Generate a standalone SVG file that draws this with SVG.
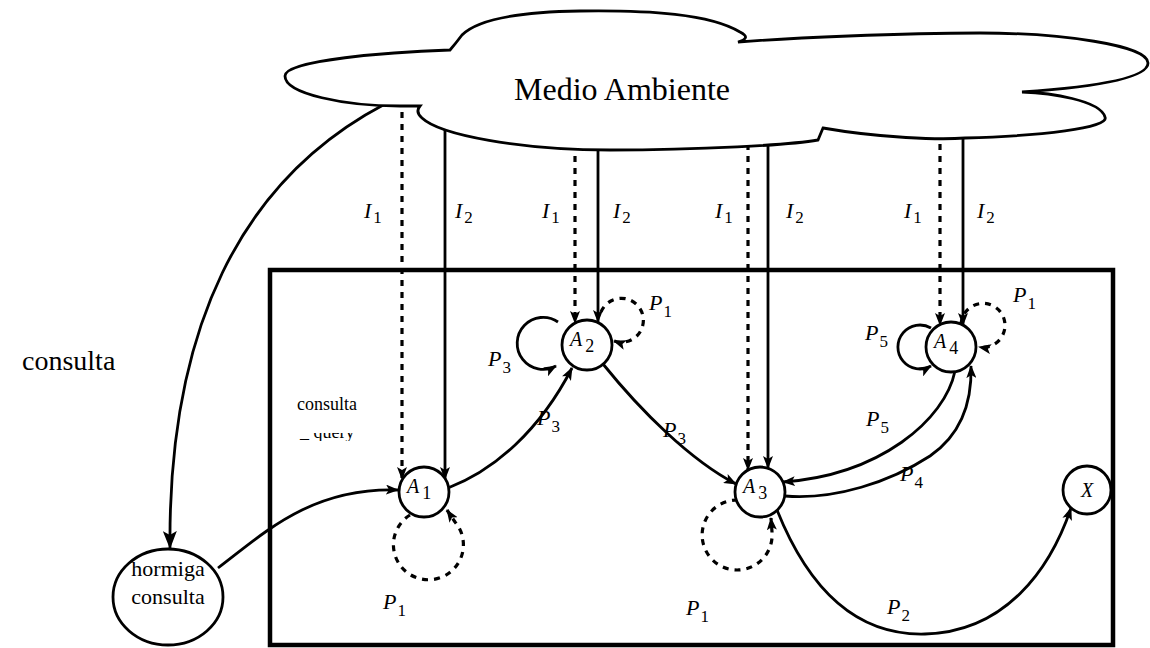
<svg xmlns="http://www.w3.org/2000/svg" width="1150" height="648" viewBox="0 0 1150 648">
  <defs>
    <style>
      .ln { fill: none; stroke: #000; stroke-width: 2.8; }
      .dash { fill: none; stroke: #000; stroke-width: 3.2; stroke-dasharray: 6 6; }
      .node { fill: #fff; stroke: #000; stroke-width: 2.8; }
      .lab { font-family: "Liberation Serif", "Times New Roman", serif; font-style: italic; font-size: 22px; fill: #000; }
      .sub { font-style: normal; font-size: 17px; }
      .albl { font-family: "Liberation Serif", "Times New Roman", serif; font-style: italic; font-size: 20px; fill: #000; }
      .asub { font-style: normal; font-size: 18px; }
      .txt { font-family: "Liberation Serif", "Times New Roman", serif; fill: #000; }
    </style>
    <marker id="ah" markerWidth="13" markerHeight="10" refX="12" refY="5" orient="auto" markerUnits="userSpaceOnUse">
      <path d="M0,0 L13,5 L0,10 L3,5 z" fill="#000"/>
    </marker>
    <marker id="ahL" markerWidth="18" markerHeight="14" refX="17" refY="7" orient="auto" markerUnits="userSpaceOnUse">
      <path d="M0,0 L18,7 L0,14 L4,7 z" fill="#000"/>
    </marker>
    <clipPath id="cut">
      <rect x="295" y="433" width="90" height="8"/>
    </clipPath>
  </defs>

  <rect width="1150" height="648" fill="#fff"/>

  <!-- system boundary -->
  <rect id="system" x="270" y="270" width="843" height="375" fill="none" stroke="#000" stroke-width="4.5"/>

  <!-- connectors -->
  <g id="connectors">
    <!-- environment to query ant -->
    <path class="ln" d="M 385,104 C 240,180 168,330 170,548" marker-end="url(#ahL)"/>
    <!-- query ant to A1 -->
    <path class="ln" d="M 218,568 C 262,535 310,487 398,490" marker-end="url(#ah)"/>

    <!-- inputs I1 (dashed) and I2 (solid) from the environment -->
    <path class="dash" d="M 402,100 V 479" marker-end="url(#ah)"/>
    <path class="ln" d="M 445,100 V 479" marker-end="url(#ah)"/>
    <path class="dash" d="M 575,120 V 323" marker-end="url(#ah)"/>
    <path class="ln" d="M 598,120 V 322" marker-end="url(#ah)"/>
    <path class="dash" d="M 748,120 V 470" marker-end="url(#ah)"/>
    <path class="ln" d="M 768,120 V 468" marker-end="url(#ah)"/>
    <path class="dash" d="M 940,120 V 325" marker-end="url(#ah)"/>
    <path class="ln" d="M 963,120 V 325" marker-end="url(#ah)"/>

    <!-- transitions -->
    <path class="ln" d="M 448,488 C 495,470 540,430 572,368" marker-end="url(#ah)"/>
    <path class="ln" d="M 603,364 C 640,410 690,460 736,484" marker-end="url(#ah)"/>
    <path class="ln" d="M 955,371 C 945,420 880,475 783,482" marker-end="url(#ah)"/>
    <path class="ln" d="M 785,496 C 835,500 890,482 930,456 C 962,434 972,400 971,366" marker-end="url(#ah)"/>
    <path class="ln" d="M 777,510 C 805,580 850,636 925,634 C 1005,632 1050,570 1071,508" marker-end="url(#ah)"/>

    <!-- self loops -->
    <path class="dash" d="M 410,515 A 35,35 0 1 0 455,522 L 447,510" marker-end="url(#ah)"/>
    <path class="ln" d="M 558,322 A 26,26 0 1 0 556,366" marker-end="url(#ah)"/>
    <path class="dash" d="M 601,312 A 22,22 0 1 1 614,341" marker-end="url(#ah)"/>
    <path class="dash" d="M 738,500 A 35,35 0 1 0 772,532 L 771,518" marker-end="url(#ah)"/>
    <path class="ln" d="M 931,328 A 22,22 0 1 0 931,366" marker-end="url(#ah)"/>
    <path class="dash" d="M 961,325 A 22,22 0 1 1 979,347" marker-end="url(#ah)"/>
  </g>

  <!-- connector labels -->
  <g id="labels">
    <text class="lab" x="364" y="218">I<tspan class="sub" dx="2" dy="5">1</tspan></text>
    <text class="lab" x="455" y="218">I<tspan class="sub" dx="2" dy="5">2</tspan></text>
    <text class="lab" x="542" y="218">I<tspan class="sub" dx="2" dy="5">1</tspan></text>
    <text class="lab" x="613" y="218">I<tspan class="sub" dx="2" dy="5">2</tspan></text>
    <text class="lab" x="715" y="218">I<tspan class="sub" dx="2" dy="5">1</tspan></text>
    <text class="lab" x="786" y="218">I<tspan class="sub" dx="2" dy="5">2</tspan></text>
    <text class="lab" x="904" y="218">I<tspan class="sub" dx="2" dy="5">1</tspan></text>
    <text class="lab" x="977" y="218">I<tspan class="sub" dx="2" dy="5">2</tspan></text>

    <text class="lab" x="383" y="609">P<tspan class="sub" dx="1" dy="7">1</tspan></text>
    <text class="lab" x="537" y="425">P<tspan class="sub" dx="1" dy="7">3</tspan></text>
    <text class="lab" x="488" y="366">P<tspan class="sub" dx="1" dy="7">3</tspan></text>
    <text class="lab" x="649" y="310">P<tspan class="sub" dx="1" dy="7">1</tspan></text>
    <text class="lab" x="663" y="437">P<tspan class="sub" dx="1" dy="7">3</tspan></text>
    <text class="lab" x="865" y="340">P<tspan class="sub" dx="1" dy="7">5</tspan></text>
    <text class="lab" x="1013" y="302">P<tspan class="sub" dx="1" dy="7">1</tspan></text>
    <text class="lab" x="866" y="426">P<tspan class="sub" dx="1" dy="7">5</tspan></text>
    <text class="lab" x="900" y="481">P<tspan class="sub" dx="1" dy="7">4</tspan></text>
    <text class="lab" x="686" y="615">P<tspan class="sub" dx="1" dy="7">1</tspan></text>
    <text class="lab" x="887" y="614">P<tspan class="sub" dx="1" dy="7">2</tspan></text>

    <text class="txt" x="22" y="370" font-size="28">consulta</text>
    <text class="txt" x="297" y="410" font-size="18">consulta</text>
    <text class="txt" x="300" y="438" font-size="18" clip-path="url(#cut)">_ query</text>
  </g>

  <!-- environment cloud -->
  <g id="environment">
    <path class="node" d="M 450,50 C 390,52 285,60 285,76 C 285,94 345,106 400,106 L 420,106 Q 415,112 422,118 C 440,135 520,150 610,150 C 700,150 790,145 818,140 L 823,128 C 880,138 940,140 965,138 C 1040,136 1110,128 1105,117 C 1100,100 1050,93 1022,92 C 1080,88 1148,80 1148,63 C 1148,45 1060,33 980,33 C 900,33 790,38 738,42 Q 752,38 740,32 C 710,14 650,10 580,11 C 510,12 475,22 462,35 Q 456,43 450,50 Z"/>
    <text class="txt" x="622" y="100" font-size="32" text-anchor="middle">Medio Ambiente</text>
  </g>

  <!-- states -->
  <g id="hormiga">
    <ellipse class="node" cx="168" cy="597" rx="55" ry="48"/>
    <text class="txt" x="168" y="576" font-size="22" text-anchor="middle">hormiga</text>
    <text class="txt" x="168" y="604" font-size="22" text-anchor="middle">consulta</text>
  </g>
  <g id="A1">
    <circle class="node" cx="424" cy="492" r="25"/>
    <text class="albl" x="407" y="493">A<tspan class="asub" dx="3" dy="6">1</tspan></text>
  </g>
  <g id="A2">
    <circle class="node" cx="587" cy="345" r="25"/>
    <text class="albl" x="570" y="346">A<tspan class="asub" dx="3" dy="6">2</tspan></text>
  </g>
  <g id="A3">
    <circle class="node" cx="760" cy="492" r="25"/>
    <text class="albl" x="743" y="493">A<tspan class="asub" dx="3" dy="6">3</tspan></text>
  </g>
  <g id="A4">
    <circle class="node" cx="951" cy="347" r="25"/>
    <text class="albl" x="934" y="348">A<tspan class="asub" dx="3" dy="6">4</tspan></text>
  </g>
  <g id="X">
    <circle class="node" cx="1087" cy="490" r="24"/>
    <text class="albl" x="1087" y="497" text-anchor="middle">X</text>
  </g>
</svg>
